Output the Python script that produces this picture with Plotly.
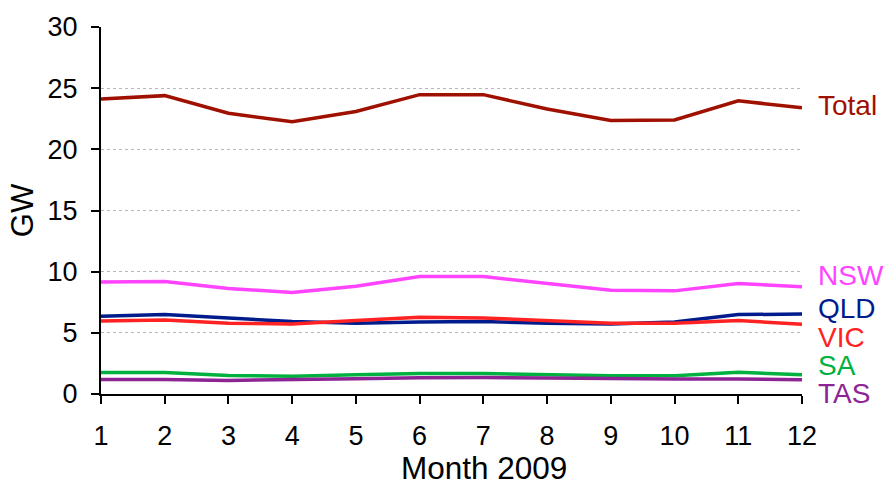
import plotly.graph_objects as go

months = list(range(1, 13))

total = [24.11, 24.39, 22.95, 22.25, 23.09, 24.47, 24.47, 23.3, 22.36, 22.4, 23.97, 23.39]
nsw = [9.16, 9.19, 8.62, 8.3, 8.81, 9.6, 9.6, 9.03, 8.49, 8.43, 9.03, 8.76]
qld = [6.35, 6.49, 6.22, 5.92, 5.78, 5.89, 5.92, 5.78, 5.73, 5.89, 6.49, 6.54]
vic = [5.97, 6.05, 5.78, 5.73, 6.0, 6.27, 6.22, 5.97, 5.78, 5.78, 6.0, 5.70]
sa = [1.76, 1.76, 1.51, 1.46, 1.57, 1.68, 1.68, 1.57, 1.49, 1.49, 1.78, 1.57]
tas = [1.19, 1.19, 1.11, 1.14, 1.24, 1.32, 1.35, 1.30, 1.24, 1.22, 1.22, 1.16]

# name, values, colour, vertical nudge of the end label (px)
series = [
    ("Total", total, "#a01000", 2),
    ("NSW", nsw, "#ff44ff", 11),
    ("QLD", qld, "#001c8c", 5),
    ("VIC", vic, "#ff2222", -13),
    ("SA", sa, "#00b140", 9),
    ("TAS", tas, "#8e2494", -14),
]

FONT = "Liberation Sans, Arial, Helvetica, sans-serif"

fig = go.Figure()
annotations = []
for name, vals, color, shift in series:
    fig.add_trace(go.Scatter(x=months, y=vals, mode="lines", name=name,
                             line=dict(color=color, width=3.5), showlegend=False))
    annotations.append(dict(x=1, xref="paper", y=vals[-1], yref="y",
                            text=name, showarrow=False, xanchor="left",
                            xshift=15, yshift=shift, borderpad=0,
                            font=dict(family=FONT, size=28, color=color)))

# x-axis title, set a little right of the plot centre
annotations.append(dict(x=0.546, xref="paper", y=0, yref="paper",
                        text="Month 2009", showarrow=False, borderpad=0,
                        xanchor="center", yanchor="middle", yshift=-74,
                        font=dict(family=FONT, size=31.5, color="black")))

fig.update_layout(
    width=886, height=486,
    margin=dict(l=101, r=84, t=24, b=92),
    plot_bgcolor="white", paper_bgcolor="white",
    font=dict(family=FONT, size=27, color="black"),
    annotations=annotations,
    xaxis=dict(range=[1, 12], tickvals=months, showgrid=False,
               showline=True, linecolor="black", linewidth=2,
               ticks="outside", ticklen=8, tickwidth=2, tickcolor="black",
               ticklabelstandoff=9, zeroline=False),
    yaxis=dict(range=[0, 30], tickvals=[0, 5, 10, 15, 20, 25, 30],
               showgrid=True, gridcolor="#b8b8b8", griddash="dot", gridwidth=1,
               showline=True, linecolor="black", linewidth=2,
               ticks="outside", ticklen=8, tickwidth=2, tickcolor="black",
               ticklabelstandoff=8,
               title=dict(text="GW", font=dict(size=31), standoff=5),
               zeroline=False),
)

fig.write_html("out.html")
